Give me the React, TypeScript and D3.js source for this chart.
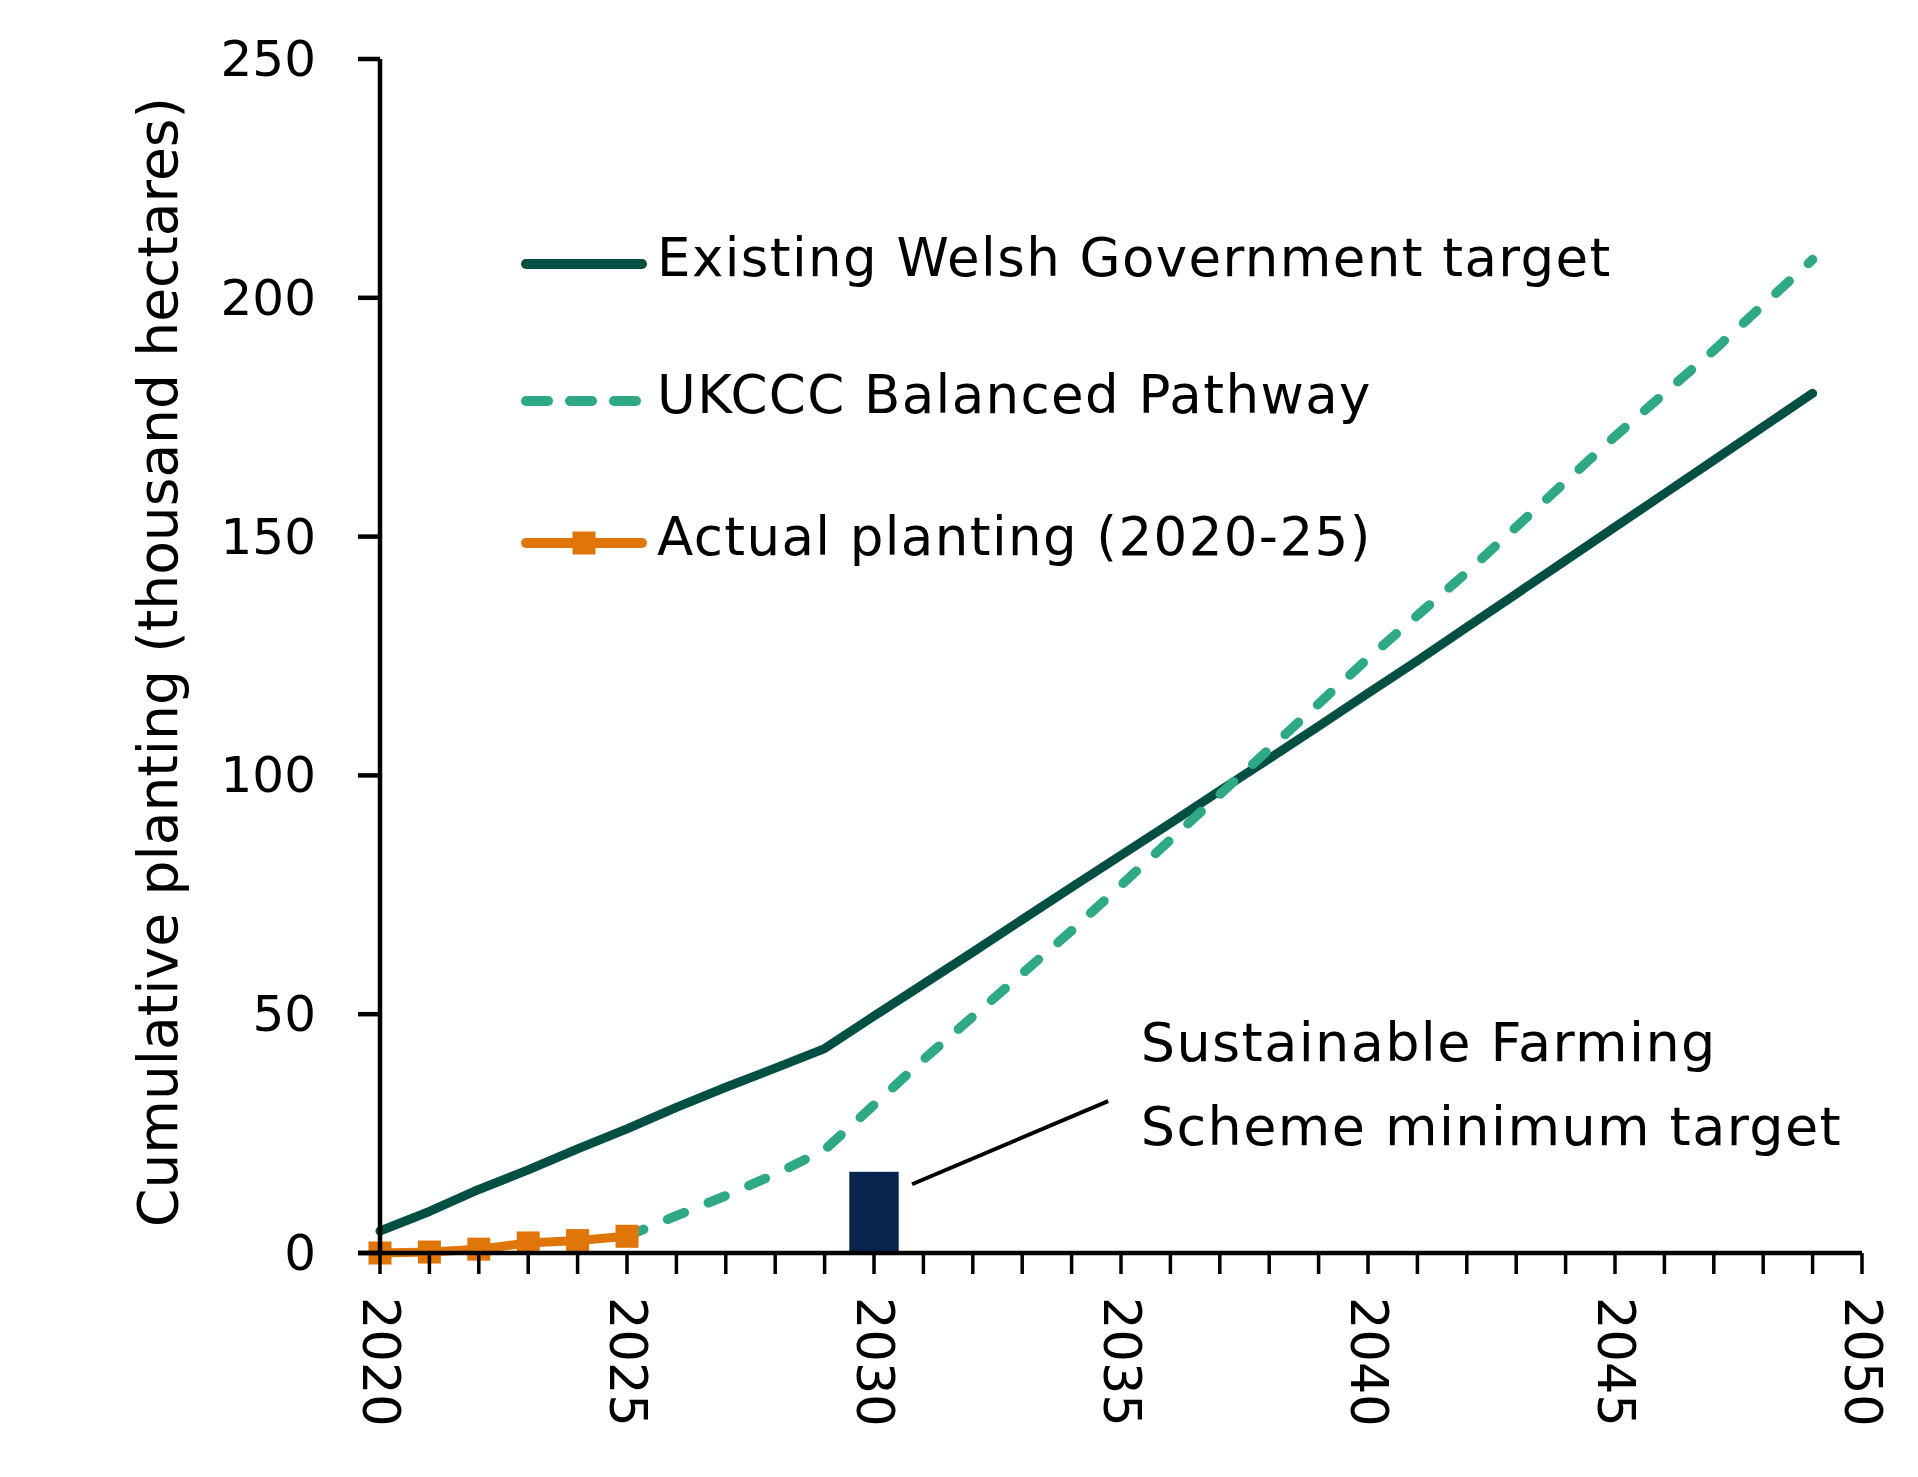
import * as d3 from "d3";

const WIDTH = 1918;
const HEIGHT = 1477;
const MARGIN = { top: 59, right: 56, bottom: 224, left: 380 };

const FONT = "'DejaVu Sans', sans-serif";

// Existing Welsh Government target, 2020-2049
const targetYears = d3.range(2020, 2050);
const targetValues = [
  4.6, 8.7, 13.3, 17.4, 21.8, 26, 30.5, 34.7, 38.7, 42.8,
  49.6, 56.3, 63, 69.8, 76.6, 83.3, 90, 96.8, 103.5, 110.3,
  117.2, 124, 131, 138, 145, 152, 159, 166, 173, 180,
];

// UKCCC Balanced Pathway, 2025-2049
const pathwayYears = d3.range(2025, 2050);
const pathwayValues = [
  3.5, 7.8, 12, 16.5, 21.6, 31, 40.5, 49.5, 58.5, 67.5,
  77, 86.5, 96, 105.5, 115, 124.5, 133.5, 142.5, 152, 161.5,
  171, 180, 189, 198.5, 208,
];

// Actual planting, 2020-2025
const actualYears = [2020, 2021, 2022, 2023, 2024, 2025];
const actualValues = [0, 0.2, 0.8, 2.1, 2.6, 3.5];

// Sustainable Farming Scheme minimum target
const sfsYear = 2030;
const sfsValue = 17;

const yTicks = [0, 50, 100, 150, 200, 250];
const xMinorTicks = d3.range(2020, 2051);
const xLabelTicks = [2020, 2025, 2030, 2035, 2040, 2045, 2050];

const legendItems = [
  { label: "Existing Welsh Government target", kind: "solid" },
  { label: "UKCCC Balanced Pathway", kind: "dashed" },
  { label: "Actual planting (2020-25)", kind: "marker" },
];

const COLORS = {
  target: "#044f43",
  pathway: "#2ea885",
  actual: "#e07609",
  bar: "#08254f",
};

export default function App() {
  const boundsWidth = WIDTH - MARGIN.left - MARGIN.right;
  const boundsHeight = HEIGHT - MARGIN.top - MARGIN.bottom;

  const xScale = d3.scaleLinear().domain([2020, 2050]).range([0, boundsWidth]);
  const yScale = d3.scaleLinear().domain([0, 250]).range([boundsHeight, 0]);

  const line = d3
    .line<[number, number]>()
    .x((d) => xScale(d[0]))
    .y((d) => yScale(d[1]));

  const targetPath = line(targetYears.map((y, i) => [y, targetValues[i]]));
  const pathwayPath = line(pathwayYears.map((y, i) => [y, pathwayValues[i]]));
  const actualPath = line(actualYears.map((y, i) => [y, actualValues[i]]));

  const barW = xScale(2021) - xScale(2020);

  // annotation leader line and text, in data units
  const lead = { x1: 2030.77, y1: 14.4, x2: 2034.74, y2: 31.8 };
  const noteX = 2035.4;

  const legendX = 141;
  const legendRows = [205, 342, 484];

  return (
    <svg
      width={WIDTH}
      height={HEIGHT}
      style={{ position: "absolute", left: 0, top: 0, background: "#fff" }}
      fontFamily={FONT}
    >
      <g transform={`translate(${MARGIN.left},${MARGIN.top})`}>
        {/* bar */}
        <rect
          x={xScale(sfsYear) - barW / 2}
          y={yScale(sfsValue)}
          width={barW}
          height={yScale(0) - yScale(sfsValue)}
          fill={COLORS.bar}
        />

        {/* annotation */}
        <line
          x1={xScale(lead.x1)}
          y1={yScale(lead.y1)}
          x2={xScale(lead.x2)}
          y2={yScale(lead.y2)}
          stroke="#000"
          strokeWidth={4}
        />
        <text x={xScale(noteX)} y={yScale(40.3)} fontSize={54} letterSpacing={1.4} fill="#000">
          Sustainable Farming
        </text>
        <text x={xScale(noteX)} y={yScale(22.6)} fontSize={54} letterSpacing={1.4} fill="#000">
          Scheme minimum target
        </text>

        {/* lines */}
        <path
          d={targetPath ?? ""}
          fill="none"
          stroke={COLORS.target}
          strokeWidth={9}
          strokeLinejoin="round"
          strokeLinecap="round"
        />
        <path
          d={pathwayPath ?? ""}
          fill="none"
          stroke={COLORS.pathway}
          strokeWidth={9.5}
          strokeDasharray="18 26"
          strokeLinecap="round"
        />
        <path
          d={actualPath ?? ""}
          fill="none"
          stroke={COLORS.actual}
          strokeWidth={9}
          strokeLinejoin="round"
        />
        {actualYears.map((yr, i) => (
          <rect
            key={yr}
            x={xScale(yr) - 11.5}
            y={yScale(actualValues[i]) - 11.5}
            width={23}
            height={23}
            fill={COLORS.actual}
          />
        ))}

        {/* y axis */}
        <line x1={0} x2={0} y1={0} y2={boundsHeight} stroke="#000" strokeWidth={4.5} />
        {yTicks.map((t) => (
          <g key={t} transform={`translate(0,${yScale(t)})`}>
            <line x1={-22} x2={0} stroke="#000" strokeWidth={4.5} />
            <text
              x={-64}
              textAnchor="end"
              dominantBaseline="central"
              fontSize={50}
              fill="#000"
            >
              {t}
            </text>
          </g>
        ))}
        <text
          transform={`translate(${-222},${boundsHeight / 2 + 6}) rotate(-90)`}
          textAnchor="middle"
          dominantBaseline="central"
          fontSize={55}
          fill="#000"
        >
          Cumulative planting (thousand hectares)
        </text>

        {/* x axis */}
        <line x1={-22} x2={boundsWidth} y1={boundsHeight} y2={boundsHeight} stroke="#000" strokeWidth={4.5} />
        {xMinorTicks.map((t) => (
          <line
            key={t}
            x1={xScale(t)}
            x2={xScale(t)}
            y1={boundsHeight}
            y2={boundsHeight + 21}
            stroke="#000"
            strokeWidth={3.5}
          />
        ))}
        {xLabelTicks.map((t) => (
          <text
            key={t}
            transform={`translate(${xScale(t)},${boundsHeight + 44}) rotate(90)`}
            textAnchor="start"
            dominantBaseline="central"
            fontSize={51}
            fill="#000"
          >
            {t}
          </text>
        ))}

        {/* legend */}
        {legendItems.map((item, i) => {
          const y = legendRows[i];
          return (
            <g key={item.label} transform={`translate(${legendX},${y})`}>
              {item.kind === "solid" && (
                <line x1={5} x2={121} stroke={COLORS.target} strokeWidth={10} strokeLinecap="round" />
              )}
              {item.kind === "dashed" && (
                <line
                  x1={5}
                  x2={121}
                  stroke={COLORS.pathway}
                  strokeWidth={10}
                  strokeDasharray="22 22"
                  strokeLinecap="round"
                />
              )}
              {item.kind === "marker" && (
                <>
                  <line x1={5} x2={121} stroke={COLORS.actual} strokeWidth={10} strokeLinecap="round" />
                  <rect x={51.5} y={-11.5} width={23} height={23} fill={COLORS.actual} />
                </>
              )}
              <text
                x={136}
                dy={-7}
                dominantBaseline="central"
                fontSize={53}
                letterSpacing={1.4}
                fill="#000"
              >
                {item.label}
              </text>
            </g>
          );
        })}
      </g>
    </svg>
  );
}
